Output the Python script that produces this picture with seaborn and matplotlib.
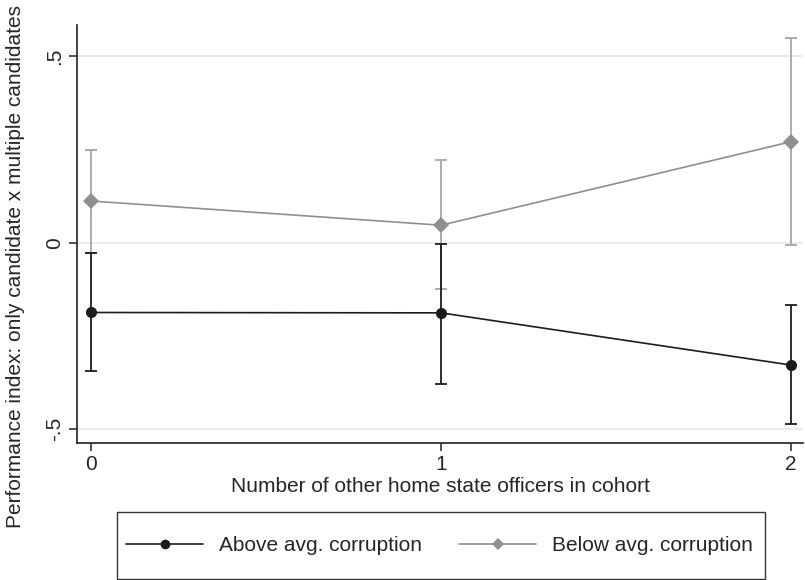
import matplotlib
matplotlib.use("Agg")
import matplotlib.pyplot as plt
from matplotlib.patches import Rectangle
import seaborn as sns
import pandas as pd
import numpy as np

# Number of other home state officers in cohort
officers = [0, 1, 2]

# Above average corruption: point estimate and 95% CI
above_est = [-0.187, -0.188, -0.328]
above_lo = [-0.344, -0.379, -0.487]
above_hi = [-0.027, -0.002, -0.167]

# Below average corruption: point estimate and 95% CI
below_est = [0.112, 0.047, 0.271]
below_lo = [-0.027, -0.124, -0.006]
below_hi = [0.249, 0.222, 0.548]

groups = ["Above avg. corruption", "Below avg. corruption"]

sns.set_theme(style="white")
plt.rcParams["font.family"] = ["Liberation Sans", "DejaVu Sans"]

df = pd.DataFrame({
    "officers": officers * 2,
    "estimate": above_est + below_est,
    "group": [groups[0]] * 3 + [groups[1]] * 3,
})

line_colors = {groups[0]: "#1c1c1c", groups[1]: "#8f8f8f"}
bar_colors = {groups[0]: "#1c1c1c", groups[1]: "#a6a6a6"}
FS = 15

W, H = 805, 580
fig = plt.figure(figsize=(W / 100, H / 100), dpi=100)
ax = fig.add_axes([77 / W, 1 - 443 / H, (803 - 77) / W, (443 - 25) / H])

# horizontal grid lines
for yv in [-0.5, 0, 0.5]:
    ax.axhline(yv, color="#e8e8e8", lw=1.2, zorder=0)

# confidence intervals
for g, lo, hi, z in [(groups[1], below_lo, below_hi, 1), (groups[0], above_lo, above_hi, 2)]:
    est = df.loc[df.group == g, "estimate"].to_numpy()
    lo = np.asarray(lo)
    hi = np.asarray(hi)
    ax.errorbar(officers, est, yerr=[est - lo, hi - est],
                fmt="none", ecolor=bar_colors[g], elinewidth=1.3, capsize=4,
                capthick=1.3, zorder=z)

sns.lineplot(data=df, x="officers", y="estimate", hue="group", style="group",
             markers={groups[0]: "o", groups[1]: "D"}, dashes=False,
             palette=line_colors, linewidth=1.2, markersize=8,
             markeredgewidth=0, ax=ax, legend=False, zorder=3)

ax.set_xlim(-0.04, 2.034)
ax.set_ylim(-0.537, 0.584)
ax.set_xticks([0, 1, 2])
ax.set_xticklabels(["0", "1", "2"], fontsize=FS)
ax.set_yticks([-0.5, 0, 0.5])
ax.set_yticklabels(["-.5", "0", ".5"], fontsize=FS, rotation=90, va="center")
ax.tick_params(axis="both", direction="out", length=6, width=1.1, color="#222222",
               left=True, bottom=True, pad=3)

for side in ["top", "right"]:
    ax.spines[side].set_visible(False)
for side in ["left", "bottom"]:
    ax.spines[side].set_color("#222222")
    ax.spines[side].set_linewidth(1.2)

ax.set_xlabel("Number of other home state officers in cohort", fontsize=FS, labelpad=2)
ax.set_ylabel("Performance index: only candidate x multiple candidates", fontsize=FS)
ax.yaxis.set_label_coords((25 - 77) / 726, (443 - 266) / 418)

# legend box below the plot
fig.patches.append(Rectangle((117 / W, 1 - 579 / H), (765 - 117) / W, (579 - 512) / H,
                             transform=fig.transFigure, fill=False,
                             edgecolor="#333333", linewidth=1.0))
handles = [
    plt.Line2D([], [], color=line_colors[groups[0]], marker="o", markersize=7, lw=1.2,
               markeredgewidth=0),
    plt.Line2D([], [], color=line_colors[groups[1]], marker="D", markersize=6, lw=1.2,
               markeredgewidth=0),
]
fig.legend(handles, groups, loc="center left", ncol=2,
           bbox_to_anchor=(126 / W, 1 - 545.5 / H),
           fontsize=FS, frameon=False, handlelength=3.7, handletextpad=0.75,
           columnspacing=1.8, borderpad=0, borderaxespad=0)

fig.savefig("out.png", dpi=100)
